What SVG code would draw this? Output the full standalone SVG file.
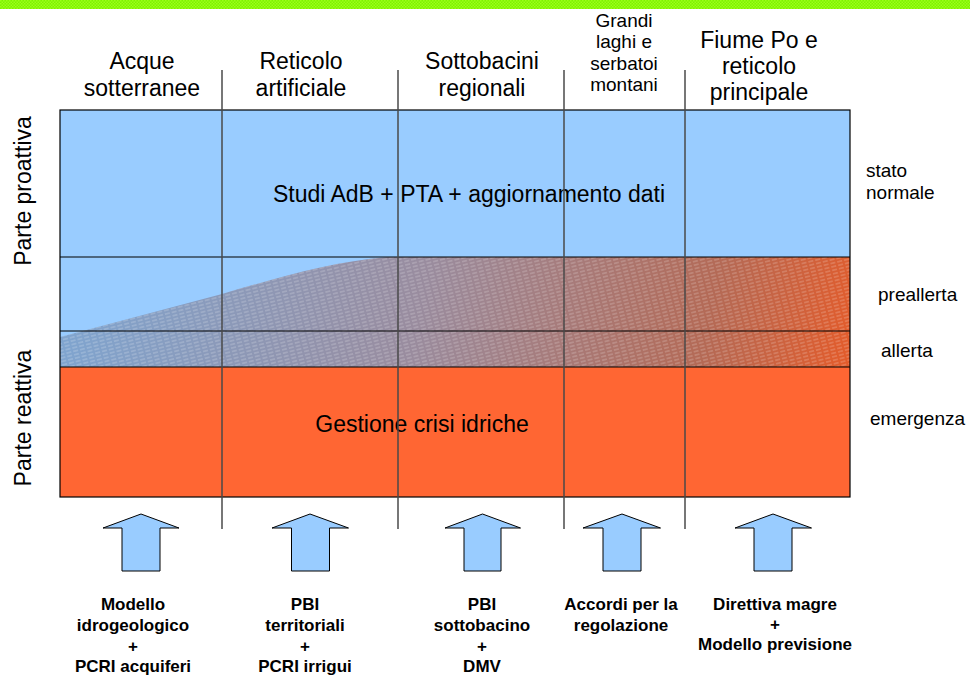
<svg xmlns="http://www.w3.org/2000/svg" width="970" height="675" viewBox="0 0 970 675">
<defs>
<pattern id="green" width="3" height="3" patternUnits="userSpaceOnUse">
<rect width="3" height="3" fill="#7df200"/>
<rect width="1.5" height="1.5" fill="#9cff1a"/>
<rect x="1.5" y="1.5" width="1.5" height="1.5" fill="#9cff1a"/>
</pattern>
<linearGradient id="trans" gradientUnits="userSpaceOnUse" x1="60" y1="260" x2="850" y2="430">
<stop offset="0" stop-color="#7ea6d2"/>
<stop offset="0.45" stop-color="#9a8c9e"/>
<stop offset="0.8" stop-color="#b46a56"/>
<stop offset="1" stop-color="#e85a26"/>
</linearGradient>
<pattern id="hatch" width="7" height="3.5" patternUnits="userSpaceOnUse" patternTransform="rotate(-14)">
<line x1="0" y1="1.75" x2="5" y2="1.75" stroke="#ffffff" stroke-width="0.7" stroke-opacity="0.45"/>
</pattern>
</defs>
<style>
.hd{font-family:"Liberation Sans",Arial,sans-serif;font-size:23px;fill:#000;text-anchor:middle}
.sm{font-family:"Liberation Sans",Arial,sans-serif;font-size:19px;fill:#000}
.smc{text-anchor:middle}
.bd{font-family:"Liberation Sans",Arial,sans-serif;font-size:17px;font-weight:bold;fill:#000;text-anchor:middle}
.arrow{fill:#99ccff;stroke:#000;stroke-width:1}
.grid{stroke:#4a4a4a;stroke-width:1.5;fill:none}
.hline{stroke:#000;stroke-width:1.2}
</style>
<rect id="topbar" x="0" y="0" width="970" height="9" fill="url(#green)"/>

<g id="band">
<rect x="60" y="110" width="790" height="257" fill="#99ccff"/>
<rect x="60" y="367" width="790" height="130" fill="#ff6633"/>
<path d="M60,337 L222,294 C280,277 330,262 388,257 L850,257 L850,367 L60,367 Z" fill="url(#trans)"/>
<path d="M60,337 L222,294 C280,277 330,262 388,257 L850,257 L850,367 L60,367 Z" fill="url(#hatch)"/>
<rect x="60" y="110" width="790" height="387" fill="none" stroke="#000" stroke-width="1.2"/>
<line class="hline" x1="60" y1="257" x2="850" y2="257"/>
<line class="hline" x1="60" y1="331" x2="850" y2="331"/>
<line class="hline" x1="60" y1="367" x2="850" y2="367"/>
<text class="hd" x="469" y="202">Studi AdB + PTA + aggiornamento dati</text>
<text class="hd" x="422" y="432">Gestione crisi idriche</text>
</g>

<g id="connectors">
<line class="grid" x1="222" y1="70" x2="222" y2="529"/>
<line class="grid" x1="398" y1="70" x2="398" y2="529"/>
<line class="grid" x1="564" y1="70" x2="564" y2="529"/>
<line class="grid" x1="685" y1="70" x2="685" y2="529"/>
</g>

<g id="side-labels">
<text class="hd" transform="translate(31,191) rotate(-90)">Parte proattiva</text>
<text class="hd" transform="translate(31,418) rotate(-90)">Parte reattiva</text>
<text class="sm" x="866" y="177">stato</text>
<text class="sm" x="866" y="199">normale</text>
<text class="sm" x="878" y="301">preallerta</text>
<text class="sm" x="881" y="357">allerta</text>
<text class="sm" x="870" y="425">emergenza</text>
</g>

<g id="col-acque">
<text class="hd" x="142" y="69">Acque</text>
<text class="hd" x="142" y="96">sotterranee</text>
<path class="arrow" d="M141,514 L179,528 L160,528 L160,571 L122,571 L122,528 L103,528 Z"/>
<text class="bd" x="133" y="610">Modello</text>
<text class="bd" x="133" y="631">idrogeologico</text>
<text class="bd" x="133" y="652">+</text>
<text class="bd" x="133" y="672">PCRI acquiferi</text>
</g>

<g id="col-reticolo">
<text class="hd" x="301" y="69">Reticolo</text>
<text class="hd" x="301" y="96">artificiale</text>
<path class="arrow" d="M310,514 L348.5,528 L329.5,528 L329.5,571 L291.5,571 L291.5,528 L272,528 Z"/>
<text class="bd" x="305" y="610">PBI</text>
<text class="bd" x="305" y="631">territoriali</text>
<text class="bd" x="305" y="652">+</text>
<text class="bd" x="305" y="672">PCRI irrigui</text>
</g>

<g id="col-sottobacini">
<text class="hd" x="482" y="69">Sottobacini</text>
<text class="hd" x="482" y="96">regionali</text>
<path class="arrow" d="M482.5,514 L520.5,528 L501,528 L501,571 L464,571 L464,528 L445,528 Z"/>
<text class="bd" x="482" y="610">PBI</text>
<text class="bd" x="482" y="631">sottobacino</text>
<text class="bd" x="482" y="652">+</text>
<text class="bd" x="482" y="672">DMV</text>
</g>

<g id="col-laghi">
<text class="sm smc" x="624" y="27">Grandi</text>
<text class="sm smc" x="624" y="48">laghi e</text>
<text class="sm smc" x="624" y="69.5">serbatoi</text>
<text class="sm smc" x="624" y="90.5">montani</text>
<path class="arrow" d="M622,514 L660.5,528 L641,528 L641,571 L603,571 L603,528 L583,528 Z"/>
<text class="bd" x="621" y="610">Accordi per la</text>
<text class="bd" x="621" y="631">regolazione</text>
</g>

<g id="col-po">
<text class="hd" x="759" y="48">Fiume Po e</text>
<text class="hd" x="759" y="74">reticolo</text>
<text class="hd" x="759" y="100">principale</text>
<path class="arrow" d="M773,514 L811.5,528 L792,528 L792,571 L754,571 L754,528 L735,528 Z"/>
<text class="bd" x="775" y="610">Direttiva magre</text>
<text class="bd" x="775" y="630">+</text>
<text class="bd" x="775" y="650">Modello previsione</text>
</g>
</svg>
